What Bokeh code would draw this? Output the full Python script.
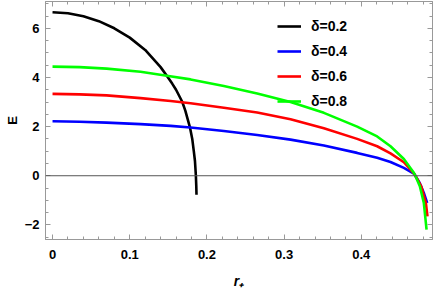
from bokeh.plotting import figure
from bokeh.models import Range1d, LinearAxis, Span, Legend, LegendItem, SingleIntervalTicker
from bokeh.embed import file_html
from bokeh.resources import INLINE

# ---- data ----
r_d02 = [0.0, 0.02, 0.04, 0.06, 0.08, 0.10, 0.12, 0.14, 0.148, 0.155, 0.16, 0.168,
         0.172, 0.178, 0.181, 0.183, 0.1845, 0.1857, 0.1862, 0.1865]
E_d02 = [6.65, 6.61, 6.49, 6.29, 6.00, 5.62, 5.12, 4.42, 4.07, 3.75, 3.50, 3.01,
         2.65, 1.97, 1.50, 1.00, 0.60, 0.00, -0.40, -0.77]

r_d04 = [0.0, 0.035, 0.07, 0.114, 0.153, 0.1788, 0.2219, 0.2651, 0.3083, 0.3515, 0.3946,
         0.4205, 0.4378, 0.4551, 0.468, 0.470, 0.4758, 0.481, 0.4853]
E_d04 = [2.22, 2.20, 2.16, 2.10, 2.03, 1.96, 1.82, 1.66, 1.47, 1.23, 0.93,
         0.73, 0.56, 0.32, 0.09, 0.00, -0.30, -0.70, -1.11]

r_d06 = [0.0, 0.035, 0.07, 0.114, 0.153, 0.1788, 0.2219, 0.2651, 0.3083, 0.3515, 0.3946,
         0.4205, 0.4378, 0.4551, 0.468, 0.470, 0.4776, 0.4836, 0.4857]
E_d06 = [3.33, 3.31, 3.27, 3.16, 3.04, 2.95, 2.77, 2.57, 2.30, 1.93, 1.50,
         1.20, 0.91, 0.55, 0.10, 0.00, -0.43, -1.11, -1.65]

r_d08 = [0.0, 0.035, 0.07, 0.114, 0.148, 0.1788, 0.2219, 0.2651, 0.3083, 0.3515, 0.3946,
         0.4205, 0.4378, 0.4551, 0.468, 0.470, 0.4758, 0.481, 0.4845]
E_d08 = [4.44, 4.42, 4.36, 4.23, 4.07, 3.92, 3.65, 3.35, 3.00, 2.56, 2.00,
         1.60, 1.20, 0.68, 0.12, 0.00, -0.43, -1.11, -2.19]

labels = ["δ=0.2", "δ=0.4", "δ=0.6", "δ=0.8"]

x_ticks_major = 0.1
y_ticks_major = 2

# ---- figure ----
p = figure(width=436, height=291, output_backend="svg", toolbar_location=None,
           x_range=Range1d(-0.0091, 0.4922), y_range=Range1d(-2.594, 7.09),
           min_border_left=45, min_border_right=4, min_border_top=1, min_border_bottom=51)
p.xgrid.visible = False
p.ygrid.visible = False
p.outline_line_color = "#999999"

FONT = "Liberation Sans"
AX = "#999999"

xb = p.below[0]
yl = p.left[0]
xb.ticker = SingleIntervalTicker(interval=x_ticks_major, num_minor_ticks=5)
yl.ticker = SingleIntervalTicker(interval=y_ticks_major, num_minor_ticks=4)
xb.axis_label = "r₊"
yl.axis_label = "E"

top = LinearAxis(ticker=SingleIntervalTicker(interval=x_ticks_major, num_minor_ticks=5),
                 major_label_text_font_size="0px", major_label_standoff=0,
                 major_label_text_alpha=0)
right = LinearAxis(ticker=SingleIntervalTicker(interval=y_ticks_major, num_minor_ticks=4),
                   major_label_text_font_size="0px", major_label_standoff=0,
                   major_label_text_alpha=0)
p.add_layout(top, "above")
p.add_layout(right, "right")

for ax in (xb, yl, top, right):
    ax.axis_line_color = AX
    ax.major_tick_line_color = AX
    ax.minor_tick_line_color = AX
    ax.major_tick_in = 5
    ax.major_tick_out = 0
    ax.minor_tick_in = 3
    ax.minor_tick_out = 0

for ax in (xb, yl):
    ax.major_label_text_font = FONT
    ax.major_label_text_font_style = "bold"
    ax.major_label_text_color = "black"
    ax.major_label_text_font_size = "13px"
    ax.axis_label_text_font = FONT
    ax.axis_label_text_color = "black"

xb.major_label_standoff = 10
xb.axis_label_standoff = 11
xb.axis_label_text_font_size = "14px"
xb.axis_label_text_font_style = "bold italic"
yl.major_label_standoff = 6
yl.axis_label_standoff = 2
yl.axis_label_text_font_size = "13px"
yl.axis_label_text_font_style = "bold"

p.add_layout(Span(location=0, dimension="width", line_color="#555555", line_width=1))

series = [(r_d02, E_d02, "black"), (r_d04, E_d04, "#0000ff"),
          (r_d06, E_d06, "#ff0000"), (r_d08, E_d08, "#00ff00")]
renderers = []
for xs, ys, c in series:
    renderers.append(p.line(xs, ys, line_color=c, line_width=2.6, line_join="round"))

legend = Legend(items=[LegendItem(label=l, renderers=[r]) for l, r in zip(labels, renderers)],
                location=(232, 128), padding=0, spacing=5, glyph_width=24, glyph_height=20,
                label_height=20, label_standoff=10, border_line_color=None,
                background_fill_alpha=0, label_text_font=FONT, label_text_font_style="bold",
                label_text_font_size="14px", label_text_color="black", margin=0)
p.add_layout(legend)

open("out.html", "w").write(file_html(p, INLINE))
